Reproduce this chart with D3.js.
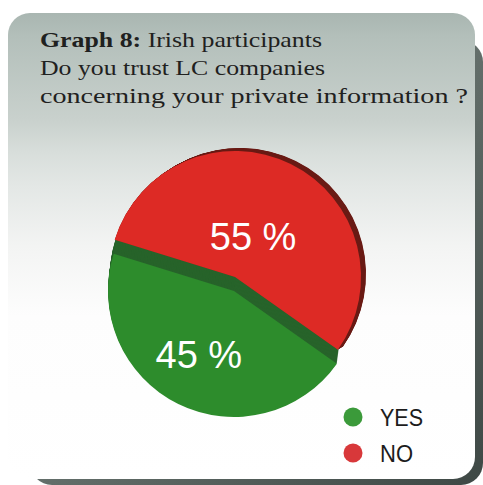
<!DOCTYPE html>
<html>
<head>
<meta charset="utf-8">
<script src="https://cdn.jsdelivr.net/npm/d3@7"></script>
<style>
  html, body { margin: 0; padding: 0; background: #ffffff; }
  svg { display: block; }
</style>
</head>
<body>
<svg id="chart" width="483" height="485"></svg>
<script>
// Survey answers: trust in LC companies with private information
const categories = ["YES", "NO"];
const shares = [45, 55];
const labels = ["45 %", "55 %"];

const titleBold = "Graph 8:";
const titleLines = ["Irish participants", "Do you trust LC companies", "concerning your private information ?"];

const topColors = ["#2d8c2c", "#dd2a25"];
const sideColors = ["#27632a", "#6a1b15"];
const legendColors = ["#3b9a3a", "#d8383a"];

const svg = d3.select("#chart");

// ---- card background ----
const defs = svg.append("defs");
const bg = defs.append("linearGradient").attr("id", "cardBg")
  .attr("x1", 0).attr("y1", 0).attr("x2", 0).attr("y2", 1);
[[0, "#a9b6b1"], [0.05, "#b3bfba"], [0.23, "#c9d1cd"], [0.3, "#d8dedb"],
 [0.37, "#e3e7e5"], [0.5, "#f3f4f3"], [0.65, "#fdfdfd"], [1, "#ffffff"]]
  .forEach(([o, c]) => bg.append("stop").attr("offset", o).attr("stop-color", c));

const sh = defs.append("linearGradient").attr("id", "shadowBg")
  .attr("x1", 0).attr("y1", 0).attr("x2", 1).attr("y2", 1);
sh.append("stop").attr("offset", 0).attr("stop-color", "#8a9591");
sh.append("stop").attr("offset", 0.6).attr("stop-color", "#5c6763");
sh.append("stop").attr("offset", 1).attr("stop-color", "#3e4845");

// drop shadow along right and bottom
svg.append("rect").attr("x", 30).attr("y", 40).attr("width", 453).attr("height", 445)
  .attr("rx", 22).attr("fill", "url(#shadowBg)");
// card face
svg.append("rect").attr("x", 8).attr("y", 13).attr("width", 467).attr("height", 466)
  .attr("rx", 22).attr("fill", "url(#cardBg)");

// ---- title ----
const title = svg.append("g").attr("font-family", "'Liberation Serif', 'Times New Roman', serif")
  .attr("fill", "#1f2120").attr("font-size", 22);
const lineX = 40, lineY = [47, 75, 103];
const lineLen = [282, 285, 428];
const t1 = title.append("text").attr("x", lineX).attr("y", lineY[0])
  .attr("textLength", lineLen[0]).attr("lengthAdjust", "spacingAndGlyphs");
t1.append("tspan").attr("font-weight", "bold").text(titleBold + " ");
t1.append("tspan").text(titleLines[0]);
titleLines.slice(1).forEach((s, i) => {
  title.append("text").attr("x", lineX).attr("y", lineY[i + 1])
    .attr("textLength", lineLen[i + 1]).attr("lengthAdjust", "spacingAndGlyphs").text(s);
});

// ---- 3D pie ----
const R = 126;
const deg = Math.PI / 180;
const start = 125.25 * deg;
const pie = d3.pie().sort(null).value(d => d).startAngle(start).endAngle(start + 2 * Math.PI);
const arcs = pie(shares);
const arc = d3.arc().innerRadius(0).outerRadius(R);

// top-face centres of each slice (NO is lifted away from YES)
const centers = [[234, 291], [235, 277]];
// extrusion direction of each slice's side wall
const depth = [[2, -15], [5, -3]];

const pieG = svg.append("g");
// draw side walls first (YES then NO), then top faces
arcs.forEach((a, i) => {
  const steps = 15;
  for (let s = steps; s >= 1; s--) {
    const t = s / steps;
    pieG.append("path")
      .attr("d", arc(a))
      .attr("transform", `translate(${centers[i][0] + depth[i][0] * t},${centers[i][1] + depth[i][1] * t})`)
      .attr("fill", sideColors[i]);
  }
  pieG.append("path")
    .attr("d", arc(a))
    .attr("transform", `translate(${centers[i][0]},${centers[i][1]})`)
    .attr("fill", topColors[i]);
});

// value labels, placed along each slice's bisector
const labelRadius = [0.58 * R, 0.35 * R];
const labelTurn = [2.5 * deg, -2 * deg];
arcs.forEach((a, i) => {
  const mid = (a.startAngle + a.endAngle) / 2 + labelTurn[i];
  const x = centers[i][0] + Math.sin(mid) * labelRadius[i];
  const y = centers[i][1] - Math.cos(mid) * labelRadius[i];
  svg.append("text")
    .attr("x", x).attr("y", y)
    .attr("text-anchor", "middle").attr("dominant-baseline", "central")
    .attr("font-family", "'Liberation Sans', Arial, sans-serif")
    .attr("font-size", 38).attr("fill", "#ffffff")
    .text(labels[i]);
});

// ---- legend ----
const legend = svg.append("g").attr("transform", "translate(353,417)");
const ly = d3.scalePoint().domain(categories).range([0, 36]);
categories.forEach((c, i) => {
  legend.append("circle").attr("cx", 0).attr("cy", ly(c)).attr("r", 9.5).attr("fill", legendColors[i]);
  legend.append("text").attr("x", 27).attr("y", ly(c) + 8.5)
    .attr("font-family", "'Liberation Sans', Arial, sans-serif")
    .attr("font-size", 24).attr("fill", "#1c1c1c")
    .attr("textLength", c.length === 3 ? 43 : 33).attr("lengthAdjust", "spacingAndGlyphs")
    .text(c);
});
</script>
</body>
</html>
